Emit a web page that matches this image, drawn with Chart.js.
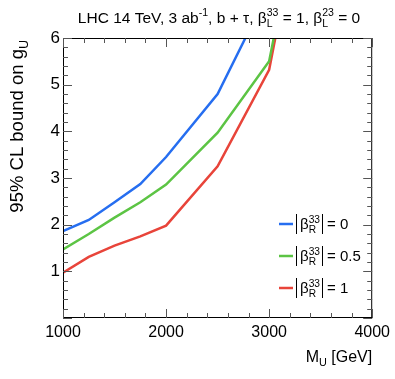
<!DOCTYPE html>
<html>
<head>
<meta charset="utf-8">
<style>
  html, body { margin: 0; padding: 0; background: #fff; }
  #wrap { width: 395px; height: 379px; }
</style>
<script src="https://cdn.jsdelivr.net/npm/chart.js@4/dist/chart.umd.min.js"></script>
</head>
<body>
<div id="wrap"><canvas id="Grafica"></canvas></div>
<script>
// values
const blueMass  = [1000, 1250, 1500, 1750, 2000, 2500, 2770];
const blueBound = [1.86, 2.10, 2.48, 2.87, 3.45, 4.80, 6.00];
const greenMass  = [1000, 1250, 1500, 1750, 2000, 2500, 3000, 3045];
const greenBound = [1.47, 1.80, 2.15, 2.48, 2.86, 3.97, 5.50, 6.00];
const redMass  = [1000, 1250, 1500, 1750, 2000, 2500, 3000, 3060];
const redBound = [0.97, 1.31, 1.55, 1.75, 1.98, 3.25, 5.32, 6.00];
const betaR = ['0', '0.5', '1'];
const colores = ['rgb(38, 110, 240)', 'rgb(92, 196, 68)', 'rgb(232, 68, 58)'];

const FONT = '"Liberation Sans", Arial, Helvetica, sans-serif';

function pares(xs, ys) {
    return xs.map((x, i) => ({x: x, y: ys[i]}));
}

// draws a run of text pieces: {t, sup, sub}
function textoRico(ctx, partes, x, y, size) {
    let cx = x;
    partes.forEach(p => {
        if (p.sup || p.sub) {
            ctx.font = (size * 0.68) + 'px ' + FONT;
            let w = 0;
            if (p.sup) { ctx.fillText(p.sup, cx, y - size * 0.42); w = ctx.measureText(p.sup).width; }
            if (p.sub) { ctx.fillText(p.sub, cx, y + size * 0.28); w = Math.max(w, ctx.measureText(p.sub).width); }
            cx += w;
        } else {
            ctx.font = size + 'px ' + FONT;
            ctx.fillText(p.t, cx, y);
            cx += ctx.measureText(p.t).width;
        }
    });
    return cx - x;
}
function anchoRico(ctx, partes, size) {
    let w = 0;
    partes.forEach(p => {
        if (p.sup || p.sub) {
            ctx.font = (size * 0.68) + 'px ' + FONT;
            w += Math.max(p.sup ? ctx.measureText(p.sup).width : 0, p.sub ? ctx.measureText(p.sub).width : 0);
        } else {
            ctx.font = size + 'px ' + FONT;
            w += ctx.measureText(p.t).width;
        }
    });
    return w;
}

const decoracion = {
    id: 'decoracion',
    afterDraw(chart) {
        const ctx = chart.ctx;
        const a = chart.chartArea;
        const sx = chart.scales.x, sy = chart.scales.y;
        ctx.save();
        ctx.strokeStyle = '#000';
        ctx.lineWidth = 1;
        ctx.strokeRect(a.left + 0.5, a.top + 0.5, a.right - a.left - 1, a.bottom - a.top - 1);

        // ticks pointing inward on all four sides
        ctx.strokeStyle = '#555';
        for (let v = 1000; v <= 4000; v += 200) {
            const px = Math.round(sx.getPixelForValue(v)) + 0.5;
            const len = (v % 1000 === 0) ? 9 : 5;
            ctx.beginPath();
            ctx.moveTo(px, a.bottom); ctx.lineTo(px, a.bottom - len);
            ctx.moveTo(px, a.top); ctx.lineTo(px, a.top + len);
            ctx.stroke();
        }
        for (let k = 0; k <= 30; k++) {
            const v = k / 5;
            const py = Math.round(sy.getPixelForValue(v)) + 0.5;
            const len = (k % 5 === 0) ? 9 : 5;
            ctx.beginPath();
            ctx.moveTo(a.left, py); ctx.lineTo(a.left + len, py);
            ctx.moveTo(a.right, py); ctx.lineTo(a.right - len, py);
            ctx.stroke();
        }

        ctx.fillStyle = '#000';
        ctx.textBaseline = 'alphabetic';
        ctx.textAlign = 'left';

        // title
        const titulo = [
            {t: 'LHC 14 TeV, 3 ab'}, {sup: '-1'}, {t: ', b + \u03c4, \u03b2'}, {sup: '33', sub: 'L'},
            {t: ' = 1, \u03b2'}, {sup: '23', sub: 'L'}, {t: ' = 0'}
        ];
        const wt = anchoRico(ctx, titulo, 15.5);
        textoRico(ctx, titulo, 219 - wt / 2, 23, 15.5);

        // x axis title, right aligned
        const tx = [{t: 'M'}, {sub: 'U'}, {t: ' [GeV]'}];
        const wx = anchoRico(ctx, tx, 16);
        textoRico(ctx, tx, a.right - wx, 362, 16);

        // y axis title, rotated, right aligned to top
        const ty = [{t: '95% CL bound on g'}, {sub: 'U'}];
        const wy = anchoRico(ctx, ty, 18.5);
        ctx.save();
        ctx.translate(23, a.top + 2);
        ctx.rotate(-Math.PI / 2);
        textoRico(ctx, ty, -wy, 0, 18.5);
        ctx.restore();

        // legend
        betaR.forEach((b, i) => {
            const y = 224 + i * 32;
            ctx.strokeStyle = colores[i];
            ctx.lineWidth = 2.5;
            ctx.beginPath();
            ctx.moveTo(279, y); ctx.lineTo(293, y);
            ctx.stroke();
            ctx.strokeStyle = '#000';
            ctx.lineWidth = 1;
            ctx.beginPath();
            ctx.moveTo(296.5, y - 10); ctx.lineTo(296.5, y + 10);
            ctx.moveTo(322.5, y - 10); ctx.lineTo(322.5, y + 10);
            ctx.stroke();
            textoRico(ctx, [{t: '\u03b2'}, {sup: '33', sub: 'R'}], 300, y + 5, 15);
            ctx.font = '15px ' + FONT;
            ctx.fillText('= ' + b, 327, y + 5);
        });
        ctx.restore();
    }
};

const ctx = document.getElementById('Grafica').getContext('2d');
const grafica = new Chart(ctx, {
    type: 'line',
    data: {
        datasets: [
            {label: '|b33R| = 0', data: pares(blueMass, blueBound), borderColor: colores[0]},
            {label: '|b33R| = 0.5', data: pares(greenMass, greenBound), borderColor: colores[1]},
            {label: '|b33R| = 1', data: pares(redMass, redBound), borderColor: colores[2]}
        ].map(d => Object.assign(d, {borderWidth: 2.5, pointRadius: 0, tension: 0, fill: false}))
    },
    options: {
        responsive: true,
        maintainAspectRatio: false,
        animation: false,
        layout: {padding: {top: 38, right: 20, left: 0, bottom: 0}},
        plugins: {legend: {display: false}, tooltip: {enabled: false}, title: {display: false}},
        scales: {
            x: {
                type: 'linear', min: 1000, max: 4000,
                grid: {display: false, drawTicks: false},
                border: {display: false},
                ticks: {stepSize: 1000, padding: 5, color: '#000', font: {family: FONT, size: 16},
                    callback: v => String(v)},
                afterFit: s => { s.height = 61; }
            },
            y: {
                type: 'linear', min: 0, max: 6,
                grid: {display: false, drawTicks: false},
                border: {display: false},
                ticks: {stepSize: 1, padding: 3, color: '#000', font: {family: FONT, size: 17},
                    callback: v => v === 0 ? '' : String(v)},
                afterFit: s => { s.width = 63; }
            }
        }
    },
    plugins: [decoracion]
});
</script>
</body>
</html>
